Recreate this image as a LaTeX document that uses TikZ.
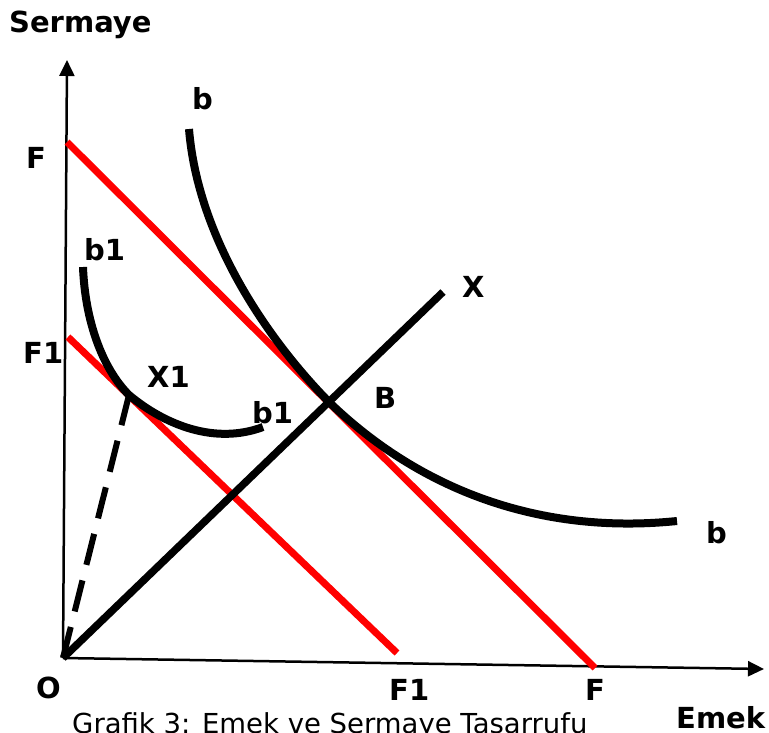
\documentclass[tikz,border=0pt]{standalone}
\usepackage{fontspec}
\setmainfont{DejaVu Sans}
\usetikzlibrary{positioning, calc, arrows.meta}
\definecolor{Budget}{HTML}{FF0000}
\definecolor{Ink}{HTML}{000000}
\tikzset{
    axis/.style={-{Triangle[length=16pt,width=15pt]}, line width=2.5pt, color=Ink},
    budget/.style={Budget, line width=7pt},
    isoquant/.style={Ink, line width=8pt},
    expansion/.style={Ink, line width=7.5pt},
    ridge/.style={Ink, line width=6pt, dash pattern=on 32pt off 16pt},
    lbl/.style={anchor=base west, inner sep=0pt, text=Ink, font=\bfseries\fontsize{29}{33}\selectfont},
    captionlbl/.style={anchor=base west, inner sep=0pt, text=Ink, font=\fontsize{27.5}{31}\selectfont},
}
\begin{document}
\begin{tikzpicture}[x=1pt, y=-1pt]
    \useasboundingbox (0,0) rectangle (769,732);

    % Noktalar
    \coordinate (O) at (63,658);
    \coordinate (Ytop) at (67,60);
    \coordinate (Xend) at (764,669);
    \coordinate (Ftop) at (67,142);
    \coordinate (Fbot) at (595,668);
    \coordinate (F1top) at (68,337);
    \coordinate (F1bot) at (397,653);
    \coordinate (Xtip) at (443,292);
    \coordinate (B) at (329,402);
    \coordinate (X1) at (129,395);
    \coordinate (bstart) at (189,129);
    \coordinate (bend) at (677,521);
    \coordinate (b1start) at (83,267);
    \coordinate (b1end) at (263,427);

    % Eksenler
    \draw[axis] (O) -- (Ytop);
    \draw[axis] (O) -- (Xend);

    % Butce dogrulari
    \draw[budget] (Ftop) -- (Fbot);
    \draw[budget] (F1top) -- (F1bot);

    % Es urun egrileri
    \draw[isoquant] (bstart) .. controls (198,240) and (270,342) .. (B)
        .. controls (420,490) and (540,535) .. (bend);
    \draw[isoquant] (b1start) .. controls (85,320) and (102,368) .. (X1)
        .. controls (165,425) and (215,445) .. (b1end);

    % Genisleme yolu
    \draw[expansion] (O) -- (Xtip);
    \draw[ridge] (O) -- (X1);

    % Etiketler
    \node[lbl] (lSermaye) at (9,32) {Sermaye};
    \node[lbl] (lbTop) at (192,109) {b};
    \node[lbl] (lF) at (26,168) {F};
    \node[lbl] (lbOneTop) at (84,260) {b1};
    \node[lbl] (lX) at (462,297) {X};
    \node[lbl] (lFOne) at (23,363) {F1};
    \node[lbl] (lXOne) at (147,387) {X1};
    \node[lbl] (lbOneLow) at (252,423) {b1};
    \node[lbl] (lB) at (374,408) {B};
    \node[lbl] (lbRight) at (706,543) {b};
    \node[lbl] (lO) at (36,698) {O};
    \node[lbl] (lFOneBot) at (389,700) {F1};
    \node[lbl] (lFBot) at (585,700) {F};
    \node[lbl] (lEmek) at (676,728) {Emek};
    \node[captionlbl] (caption) at (72,733) {Grafik 3: Emek ve Sermaye Tasarrufu};
\end{tikzpicture}
\end{document}
